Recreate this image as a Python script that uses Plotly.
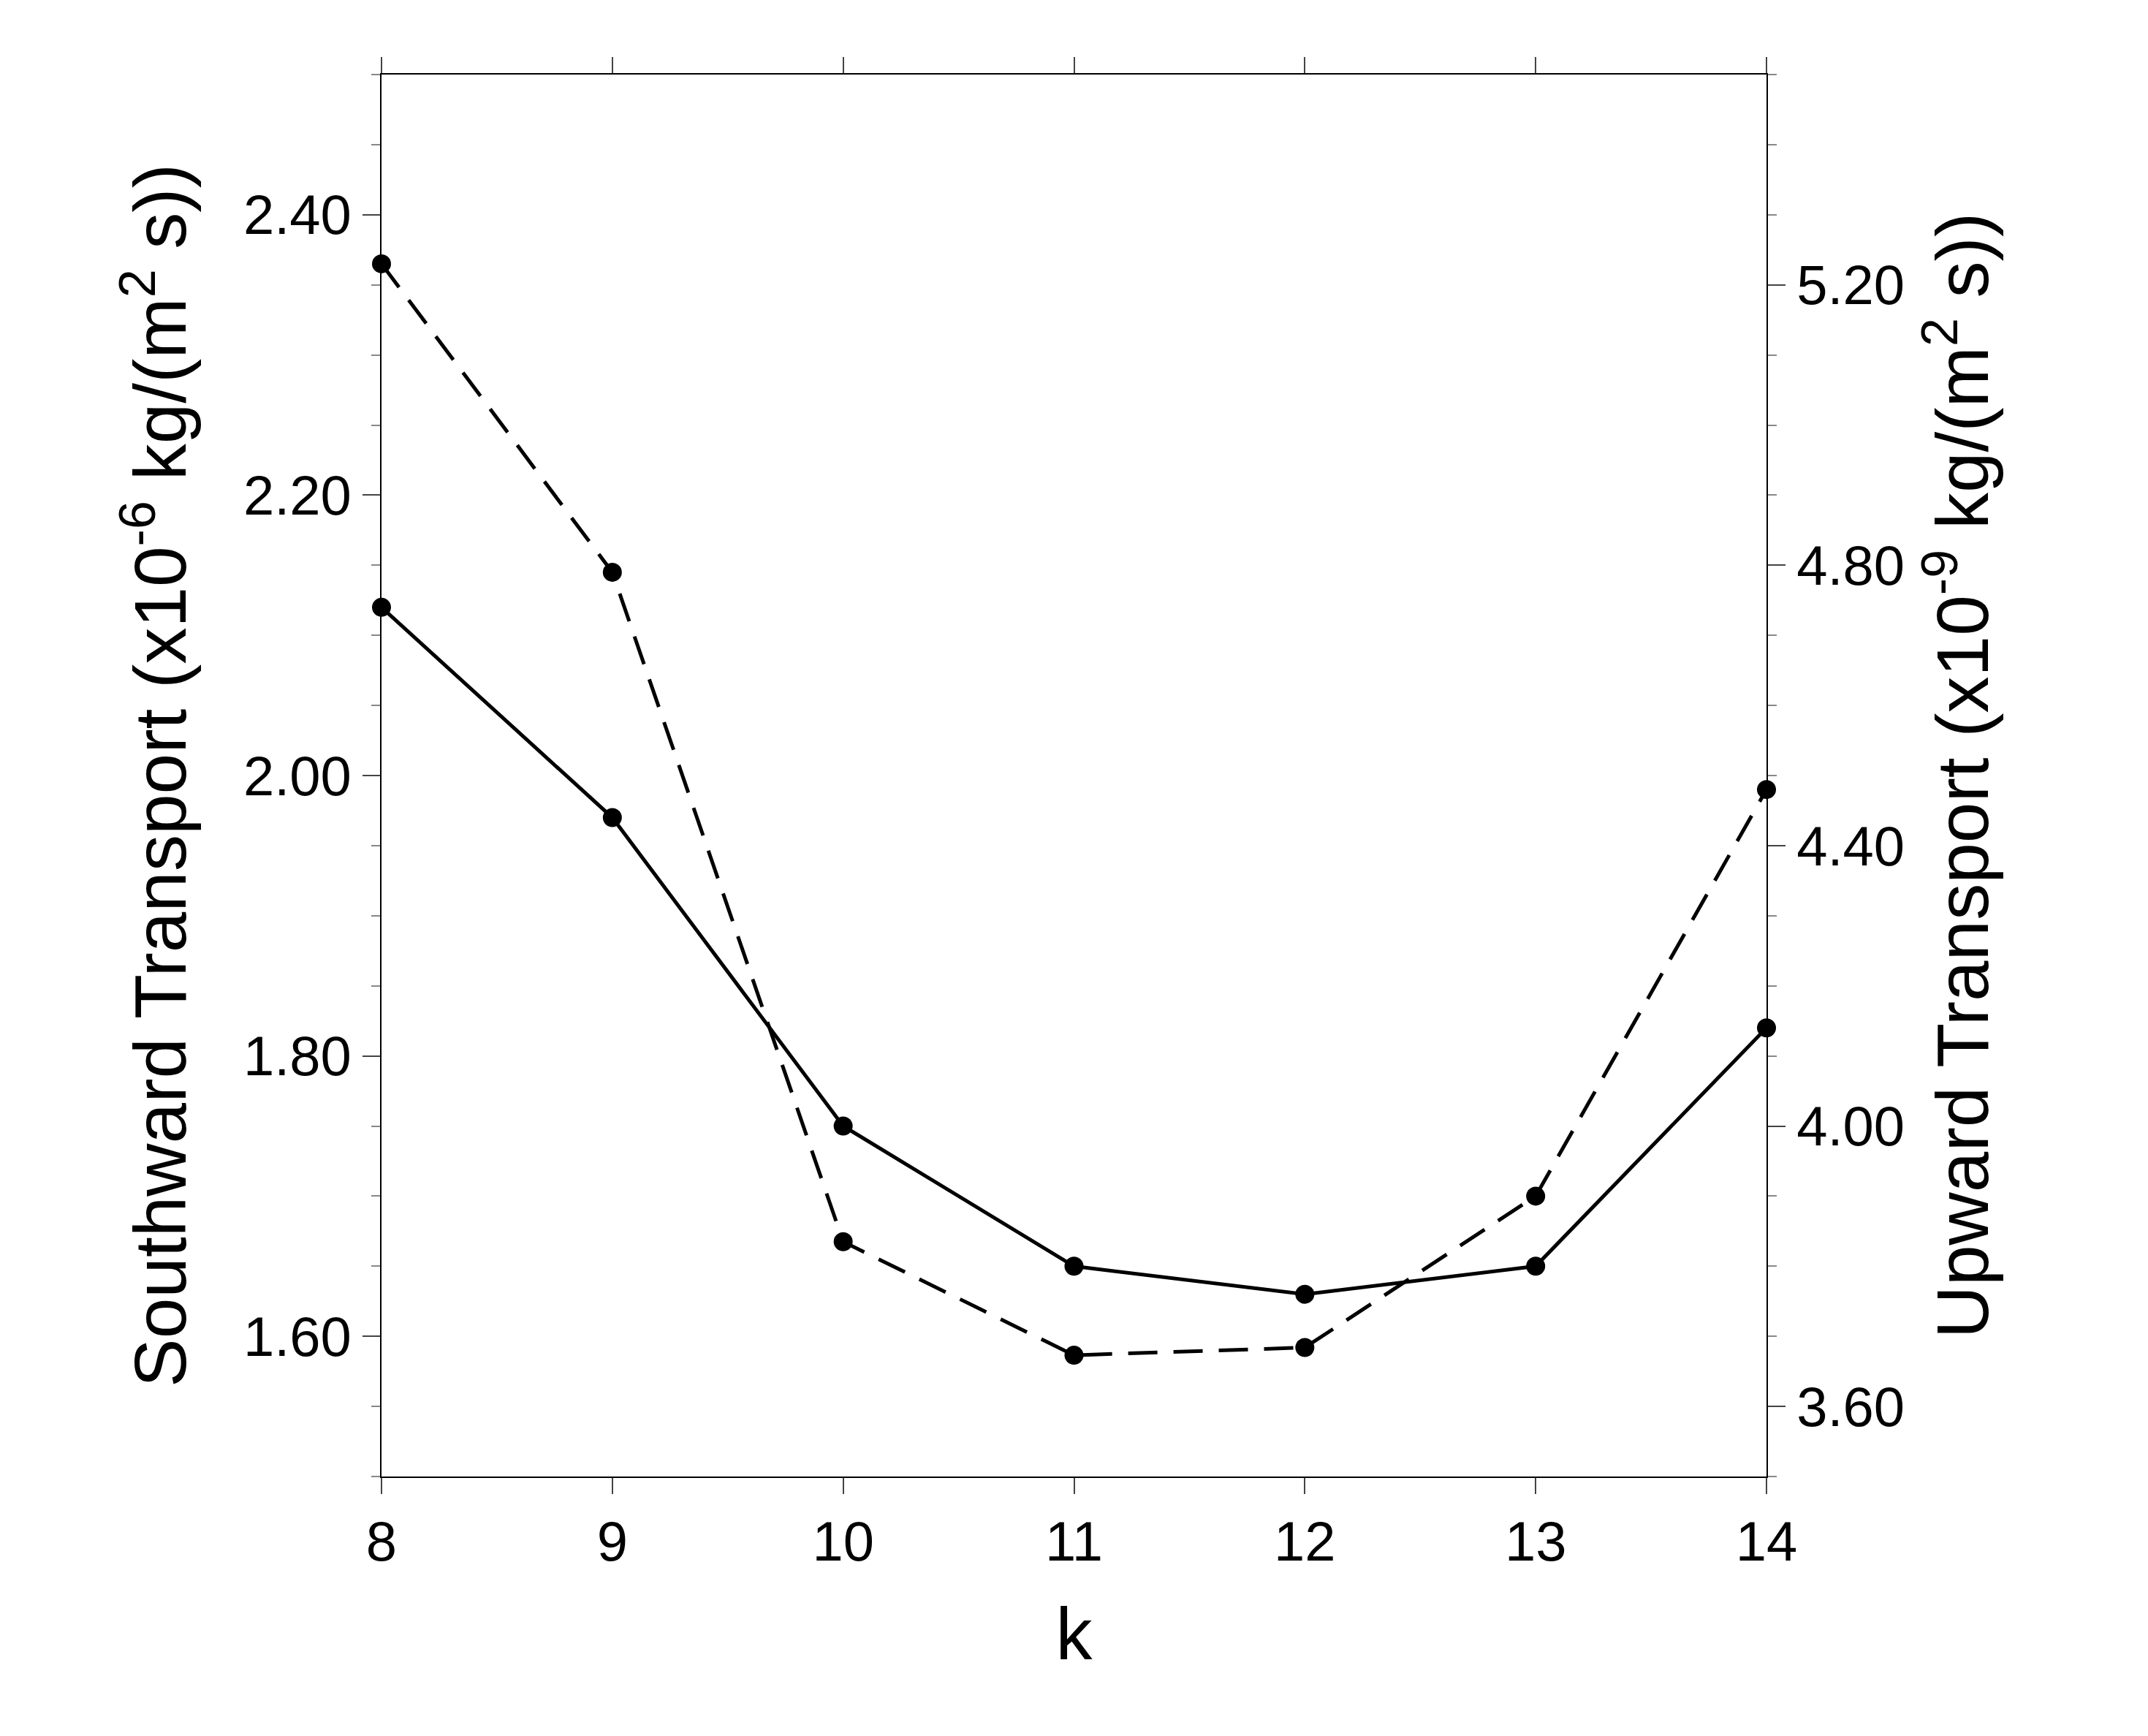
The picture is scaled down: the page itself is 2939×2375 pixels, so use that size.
import plotly.graph_objects as go

k = [8, 9, 10, 11, 12, 13, 14]
southward = [2.12, 1.97, 1.75, 1.65, 1.63, 1.65, 1.82]
upward = [5.23, 4.79, 3.835, 3.673, 3.684, 3.90, 4.48]

fig = go.Figure()
fig.add_trace(go.Scatter(x=k, y=southward, mode="lines+markers", cliponaxis=False,
                         line=dict(color="black", width=5),
                         marker=dict(color="black", size=26), showlegend=False))
fig.add_trace(go.Scatter(x=k, y=upward, mode="lines+markers", yaxis="y2", cliponaxis=False,
                         line=dict(color="black", width=5, dash="40px,22px"),
                         marker=dict(color="black", size=26), showlegend=False))

font = dict(family="Liberation Sans, Arial, sans-serif", color="black")
TF = 76
TT = 100
fig.update_layout(
    width=2939, height=2375,
    paper_bgcolor="white", plot_bgcolor="white",
    margin=dict(l=514, r=530, t=94, b=363),
    font=dict(size=TF, **font),
    xaxis=dict(range=[8, 14], tickvals=k, ticks="outside", ticklen=22, tickwidth=2,
               mirror="ticks", showline=True, linecolor="black", linewidth=2,
               showgrid=False, zeroline=False, tickfont=dict(size=TF),
               title=dict(text="k", font=dict(size=TT), standoff=50)),
    yaxis=dict(range=[1.5, 2.5], tickvals=[1.6, 1.8, 2.0, 2.2, 2.4], tickformat=".2f",
               ticks="outside", ticklen=24, tickwidth=2, showline=True, linecolor="black",
               linewidth=2, showgrid=False, zeroline=False, tickfont=dict(size=TF),
               minor=dict(dtick=0.05, ticks="outside", ticklen=12, tickcolor="#888"),
               title=dict(text="Southward Transport (x10<sup>-6</sup> kg/(m<sup>2</sup> s))",
                          font=dict(size=TT), standoff=45)),
    yaxis2=dict(range=[3.5, 5.5], tickvals=[3.6, 4.0, 4.4, 4.8, 5.2], tickformat=".2f",
                overlaying="y", side="right", anchor="x",
                ticks="outside", ticklen=24, tickwidth=2, showline=True, linecolor="black",
                linewidth=2, showgrid=False, zeroline=False, tickfont=dict(size=TF),
                minor=dict(dtick=0.1, ticks="outside", ticklen=12, tickcolor="#888"),
                title=dict(text="Upward Transport (x10<sup>-9</sup> kg/(m<sup>2</sup> s))",
                           font=dict(size=TT), standoff=45)),
)
fig.write_html("out.html")
